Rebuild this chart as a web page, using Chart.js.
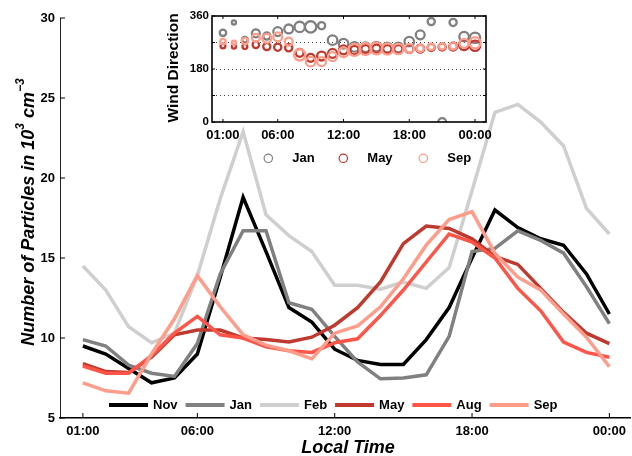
<!DOCTYPE html>
<html>
<head>
<meta charset="utf-8">
<script src="https://cdn.jsdelivr.net/npm/chart.js@4/dist/chart.umd.min.js"></script>
<style>
html, body { margin: 0; padding: 0; background: #fff; overflow: hidden; }
#wrap { position: relative; width: 632px; height: 456px; }
#main { position: absolute; left: 0; top: 0; }
#inset { position: absolute; left: 160px; top: 0; }
</style>
</head>
<body>
<div id="wrap">
  <canvas id="main" width="632" height="456"></canvas>
  <canvas id="inset" width="340" height="170"></canvas>
</div>
<script>
const FONT = '"Liberation Sans", Arial, Helvetica, sans-serif';

// hour of day, 1..24 (24 = 00:00)
const hours = [1, 2, 3, 4, 5, 6, 7, 8, 9, 10, 11, 12, 13, 14, 15, 16, 17, 18, 19, 20, 21, 22, 23, 24];
const tickHours = [1, 6, 12, 18, 24];
const countTicks = [5, 10, 15, 20, 25, 30];
const dirTicks = [0, 90, 180, 270, 360];
const dirLabels = [0, 180, 360];

// particle number concentration, 10^3 cm^-3
const nov = [9.5, 9.0, 8.1, 7.2, 7.5, 9.0, 13.8, 18.8, 15.4, 11.9, 11.0, 9.3, 8.6, 8.35, 8.35, 9.9, 11.9, 15.0, 18.0, 16.9, 16.2, 15.8, 14.0, 11.5];
const jan = [9.9, 9.5, 8.3, 7.8, 7.6, 9.65, 14.0, 16.7, 16.7, 12.2, 11.8, 10.1, 8.5, 7.45, 7.5, 7.7, 10.1, 15.4, 15.6, 16.7, 16.1, 15.3, 13.2, 10.9];
const feb = [14.5, 13.0, 10.7, 9.7, 10.3, 13.9, 18.7, 22.9, 17.7, 16.4, 15.4, 13.3, 13.3, 13.05, 13.5, 13.1, 14.4, 19.2, 24.1, 24.6, 23.5, 22.0, 18.1, 16.5];
const may = [8.4, 7.9, 7.85, 8.8, 10.2, 10.5, 10.5, 10.0, 9.9, 9.75, 10.05, 10.8, 11.9, 13.5, 15.9, 17.0, 16.85, 16.2, 15.1, 14.6, 13.1, 11.6, 10.3, 9.65];
const aug = [8.25, 7.8, 7.8, 8.9, 10.3, 11.35, 10.2, 10.0, 9.45, 9.2, 9.1, 9.7, 9.95, 11.4, 13.0, 14.75, 16.5, 16.0, 15.0, 13.1, 11.7, 9.75, 9.1, 8.8];
const sep = [7.2, 6.7, 6.55, 9.0, 11.2, 13.9, 11.95, 10.2, 9.55, 9.2, 8.7, 10.3, 10.75, 11.95, 13.7, 15.8, 17.4, 17.9, 15.3, 13.8, 13.0, 11.5, 10.05, 8.2];

// wind direction (deg) and wind speed (m/s, drawn as circle size)
const dirJan = [303, 338, 280, 301, 292, 307, 316, 323, 323, 327, 278, 266, 255, 254, 256, 253, 253, 273, 296, 341, 0, 338, 290, 286];
const dirMay = [258, 256, 256, 262, 256, 254, 252, 235, 218, 224, 233, 245, 244, 247, 249, 247, 247, 249, 249, 253, 255, 256, 262, 259];
const dirSep = [273, 269, 275, 286, 284, 289, 273, 228, 205, 205, 222, 237, 245, 248, 250, 248, 248, 250, 250, 255, 257, 258, 267, 269];
const speedJan = [2.7, 1.7, 2.3, 3.3, 3.0, 3.7, 3.7, 4.3, 4.7, 3.0, 4.0, 4.0, 4.0, 4.0, 4.0, 4.0, 4.0, 4.0, 3.7, 3.0, 3.3, 3.0, 4.0, 4.3];
const speedMay = [2.0, 1.7, 2.0, 2.7, 3.0, 3.0, 3.0, 3.3, 3.3, 3.7, 3.7, 3.7, 3.5, 3.5, 3.5, 3.5, 3.5, 3.5, 3.3, 3.0, 3.0, 3.3, 4.3, 4.3];
const speedSep = [2.3, 1.7, 2.7, 3.3, 3.7, 3.7, 3.3, 4.7, 4.0, 3.7, 3.7, 4.0, 5.0, 5.0, 5.0, 4.7, 4.3, 3.7, 3.0, 2.7, 2.7, 3.0, 3.7, 4.7];

const C_NOV = '#000000', C_JAN = '#808080', C_FEB = '#cfcfcf';
const C_MAY = '#c0392e', C_AUG = '#ff5548', C_SEP = '#ff9c8a';

const hhmm = v => String(v % 24).padStart(2, '0') + ':00';

// ---------- main chart ----------
const lines = [
  {label: 'Nov', data: nov, color: C_NOV},
  {label: 'Jan', data: jan, color: C_JAN},
  {label: 'Feb', data: feb, color: C_FEB},
  {label: 'May', data: may, color: C_MAY},
  {label: 'Aug', data: aug, color: C_AUG},
  {label: 'Sep', data: sep, color: C_SEP},
];

const mainDecor = {
  id: 'mainDecor',
  afterDraw(chart) {
    const {ctx, chartArea: a, scales: {x, y}} = chart;
    ctx.save();
    // inward ticks
    ctx.strokeStyle = '#000';
    ctx.lineWidth = 1;
    ctx.beginPath();
    tickHours.forEach(h => {
      const px = x.getPixelForValue(h);
      ctx.moveTo(px, a.bottom); ctx.lineTo(px, a.bottom - 5);
    });
    countTicks.forEach(v => {
      const py = y.getPixelForValue(v);
      ctx.moveTo(a.left, py); ctx.lineTo(a.left + 5, py);
    });
    ctx.stroke();

    // legend inside the plot
    ctx.font = `bold 13px ${FONT}`;
    ctx.textBaseline = 'middle';
    ctx.textAlign = 'left';
    let lx = 109;
    const ly = 405;
    chart.data.datasets.forEach(d => {
      ctx.strokeStyle = d.borderColor;
      ctx.lineWidth = 4;
      ctx.beginPath(); ctx.moveTo(lx, ly); ctx.lineTo(lx + 39, ly); ctx.stroke();
      ctx.fillStyle = '#000';
      ctx.fillText(d.label, lx + 44, ly);
      lx += 44 + ctx.measureText(d.label).width + 8;
    });

    // x title
    ctx.font = `italic bold 18px ${FONT}`;
    ctx.textAlign = 'center';
    ctx.textBaseline = 'alphabetic';
    ctx.fillStyle = '#000';
    ctx.fillText('Local Time', 348, 453);

    // y title with superscripts
    const parts = [
      {t: 'Number of Particles in 10', sup: false},
      {t: '3', sup: true},
      {t: ' cm', sup: false},
      {t: '\u22123', sup: true},
    ];
    const fMain = `italic bold 18px ${FONT}`, fSup = `italic bold 12px ${FONT}`;
    let total = 0;
    parts.forEach(p => { ctx.font = p.sup ? fSup : fMain; p.w = ctx.measureText(p.t).width; total += p.w; });
    ctx.translate(33.5, 212);
    ctx.rotate(-Math.PI / 2);
    ctx.textAlign = 'left';
    let tx = -total / 2;
    parts.forEach(p => {
      ctx.font = p.sup ? fSup : fMain;
      ctx.fillText(p.t, tx, p.sup ? -10 : 0);
      tx += p.w;
    });
    ctx.restore();
  }
};

new Chart(document.getElementById('main'), {
  type: 'line',
  data: {
    datasets: lines.map((s, i) => ({
      label: s.label,
      data: hours.map((h, j) => ({x: h, y: s.data[j]})),
      borderColor: s.color,
      backgroundColor: s.color,
      borderWidth: 3.5,
      borderJoinStyle: 'miter',
      pointRadius: 0,
      tension: 0,
      fill: false,
      order: lines.length - i,
    })),
  },
  options: {
    responsive: false,
    animation: false,
    events: [],
    layout: {padding: {top: 18, right: 0, bottom: 0, left: 0}},
    plugins: {legend: {display: false}, tooltip: {enabled: false}},
    scales: {
      x: {
        type: 'linear', min: 0, max: 24.93,
        afterFit: s => { s.height = 38; },
        afterBuildTicks: s => { s.ticks = tickHours.map(v => ({value: v})); },
        grid: {display: false, drawTicks: false},
        border: {display: true, color: '#000', width: 1.5},
        ticks: {padding: 6, color: '#000', maxRotation: 0, autoSkip: false,
                font: {family: FONT, size: 13, weight: 'bold'}, callback: v => hhmm(v)},
      },
      y: {
        type: 'linear', min: 5, max: 30,
        afterFit: s => { s.width = 60; },
        afterBuildTicks: s => { s.ticks = countTicks.map(v => ({value: v})); },
        grid: {display: false, drawTicks: false},
        border: {display: true, color: '#222', width: 1},
        ticks: {padding: 5, color: '#000', font: {family: FONT, size: 13, weight: 'bold'}},
      },
    },
  },
  plugins: [mainDecor],
});

// ---------- inset: wind direction ----------
const winds = [
  {label: 'Jan', dir: dirJan, speed: speedJan, color: C_JAN},
  {label: 'May', dir: dirMay, speed: speedMay, color: C_MAY},
  {label: 'Sep', dir: dirSep, speed: speedSep, color: C_SEP},
];

const insetDecor = {
  id: 'insetDecor',
  afterDraw(chart) {
    const {ctx, chartArea: a, scales: {x, y}} = chart;
    ctx.save();
    ctx.strokeStyle = '#000';
    ctx.lineWidth = 1;
    ctx.beginPath();
    tickHours.forEach(h => {
      const px = x.getPixelForValue(h);
      ctx.moveTo(px, a.bottom); ctx.lineTo(px, a.bottom - 3);
      ctx.moveTo(px, a.top); ctx.lineTo(px, a.top + 3);
    });
    dirTicks.forEach(v => {
      const py = y.getPixelForValue(v);
      ctx.moveTo(a.left, py); ctx.lineTo(a.left + 3, py);
      ctx.moveTo(a.right, py); ctx.lineTo(a.right - 3, py);
    });
    ctx.stroke();
    ctx.lineWidth = 1.6;
    ctx.strokeRect(a.left, a.top, a.right - a.left, a.bottom - a.top);

    // y title
    ctx.fillStyle = '#000';
    ctx.font = `bold 15.5px ${FONT}`;
    ctx.textAlign = 'center';
    ctx.textBaseline = 'alphabetic';
    ctx.save();
    ctx.translate(18, 68);
    ctx.rotate(-Math.PI / 2);
    ctx.fillText('Wind Direction', 0, 0);
    ctx.restore();

    // legend
    ctx.font = `bold 13px ${FONT}`;
    ctx.textAlign = 'left';
    ctx.textBaseline = 'middle';
    const lxs = [108.3, 183.3, 263.3];
    chart.data.datasets.forEach((d, i) => {
      ctx.strokeStyle = d.borderColor;
      ctx.lineWidth = 1.2;
      ctx.beginPath(); ctx.arc(lxs[i], 158.3, 4.2, 0, Math.PI * 2); ctx.stroke();
      ctx.fillStyle = '#000';
      ctx.fillText(d.label, lxs[i] + 24, 158.3);
    });
    ctx.restore();
  }
};

new Chart(document.getElementById('inset'), {
  type: 'scatter',
  data: {
    datasets: winds.map((w, i) => ({
      label: w.label,
      data: hours.map((h, j) => ({x: h, y: w.dir[j]})),
      borderColor: w.color,
      backgroundColor: 'rgba(0,0,0,0)',
      borderWidth: 2.3,
      pointRadius: w.speed.map(s => s * 1.2),
      pointStyle: 'circle',
      order: winds.length - i,
    })),
  },
  options: {
    responsive: false,
    animation: false,
    events: [],
    layout: {padding: {top: 16, right: 14, bottom: 0, left: 0}},
    plugins: {legend: {display: false}, tooltip: {enabled: false}},
    scales: {
      x: {
        type: 'linear', min: 0, max: 25,
        afterFit: s => { s.height = 48; },
        afterBuildTicks: s => { s.ticks = tickHours.map(v => ({value: v})); },
        grid: {display: false, drawTicks: false},
        border: {display: false},
        ticks: {padding: 6, color: '#000', maxRotation: 0, autoSkip: false,
                font: {family: FONT, size: 13, weight: 'bold'}, callback: v => hhmm(v)},
      },
      y: {
        type: 'linear', min: 0, max: 360,
        afterFit: s => { s.width = 52; },
        afterBuildTicks: s => { s.ticks = dirTicks.map(v => ({value: v})); },
        grid: {display: true, drawTicks: false, lineWidth: 1,
               color: c => (c.tick && c.tick.value > 0 && c.tick.value < 360) ? '#444' : 'rgba(0,0,0,0)'},
        border: {display: false, dash: [1, 3]},
        ticks: {padding: 3, color: '#000', font: {family: FONT, size: 11.5, weight: 'bold'},
                callback: v => dirLabels.includes(v) ? String(v) : ''},
      },
    },
  },
  plugins: [insetDecor],
});
</script>
</body>
</html>
